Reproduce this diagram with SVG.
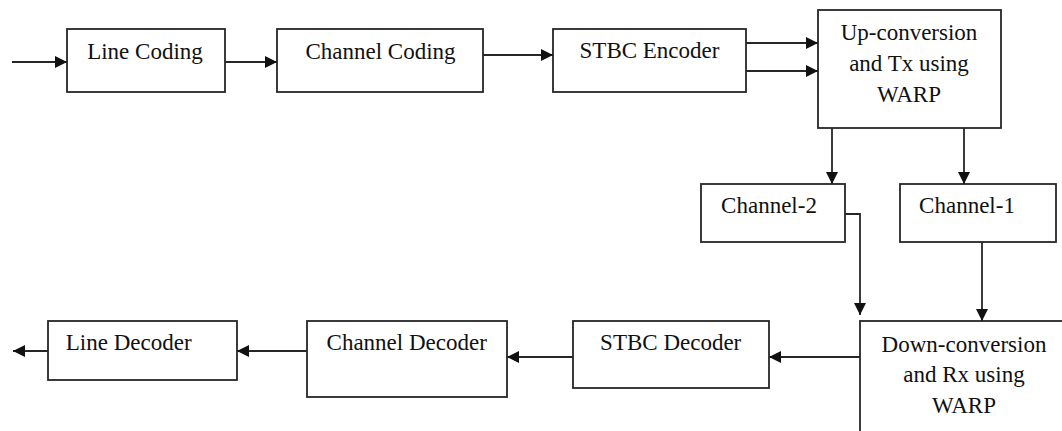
<svg xmlns="http://www.w3.org/2000/svg" width="1062" height="431" viewBox="0 0 1062 431">
<style>
.box{fill:#fff;stroke:#262626;stroke-width:1.8}
.lbl{font-family:'Liberation Serif','Times New Roman',Tinos,'DejaVu Serif',serif;font-size:23px;fill:#111;text-anchor:middle}
.conn{fill:none;stroke:#262626;stroke-width:1.8}
</style>
<defs>
<marker id="ah" viewBox="0 0 12 12" refX="12" refY="6" markerWidth="12" markerHeight="12" markerUnits="userSpaceOnUse" orient="auto">
<path d="M0,0 L12,6 L0,12 z" fill="#111"/>
</marker>
</defs>
<rect width="1062" height="431" fill="#fff"/>
<g id="line-coding"><rect class="box" x="67" y="29" width="158" height="63"/><text class="lbl" font-family="Liberation Serif, serif" x="145" y="59">Line Coding</text></g>
<g id="channel-coding"><rect class="box" x="277" y="29" width="206" height="63"/><text class="lbl" x="380.5" y="59">Channel Coding</text></g>
<g id="stbc-encoder"><rect class="box" x="553" y="29" width="193" height="63"/><text class="lbl" x="649.5" y="58">STBC Encoder</text></g>
<g id="up-conversion"><rect class="box" x="818" y="10" width="183" height="118"/><text class="lbl" x="909" y="40">Up-conversion</text><text class="lbl" x="909" y="71">and Tx using</text><text class="lbl" x="909" y="102">WARP</text></g>
<g id="channel-2"><rect class="box" x="701" y="184" width="144" height="58"/><text class="lbl" x="769" y="213">Channel-2</text></g>
<g id="channel-1"><rect class="box" x="900" y="184" width="156" height="58"/><text class="lbl" x="967" y="213">Channel-1</text></g>
<g id="down-conversion"><rect class="box" x="860" y="321" width="210" height="120"/><text class="lbl" x="964" y="352">Down-conversion</text><text class="lbl" x="964" y="382">and Rx using</text><text class="lbl" x="964" y="413">WARP</text></g>
<g id="stbc-decoder"><rect class="box" x="573" y="321" width="196" height="67"/><text class="lbl" x="670.7" y="350">STBC Decoder</text></g>
<g id="channel-decoder"><rect class="box" x="307" y="321" width="200" height="76"/><text class="lbl" x="406.7" y="350">Channel Decoder</text></g>
<g id="line-decoder"><rect class="box" x="48" y="321" width="189" height="59"/><text class="lbl" x="128.7" y="350">Line Decoder</text></g>
<g id="connectors">
<path class="conn" marker-end="url(#ah)" d="M12,62 H67"/>
<path class="conn" marker-end="url(#ah)" d="M225,62 H277"/>
<path class="conn" marker-end="url(#ah)" d="M483,55 H553"/>
<path class="conn" marker-end="url(#ah)" d="M746,43 H818"/>
<path class="conn" marker-end="url(#ah)" d="M746,71 H818"/>
<path class="conn" marker-end="url(#ah)" d="M832,128 V184"/>
<path class="conn" marker-end="url(#ah)" d="M964,128 V184"/>
<path class="conn" marker-end="url(#ah)" d="M845,214 H860 V315"/>
<path class="conn" marker-end="url(#ah)" d="M982,242 V321"/>
<path class="conn" marker-end="url(#ah)" d="M860,357 H769"/>
<path class="conn" marker-end="url(#ah)" d="M573,357 H507"/>
<path class="conn" marker-end="url(#ah)" d="M307,351 H237"/>
<path class="conn" marker-end="url(#ah)" d="M48,351 H13"/>
</g>
</svg>
